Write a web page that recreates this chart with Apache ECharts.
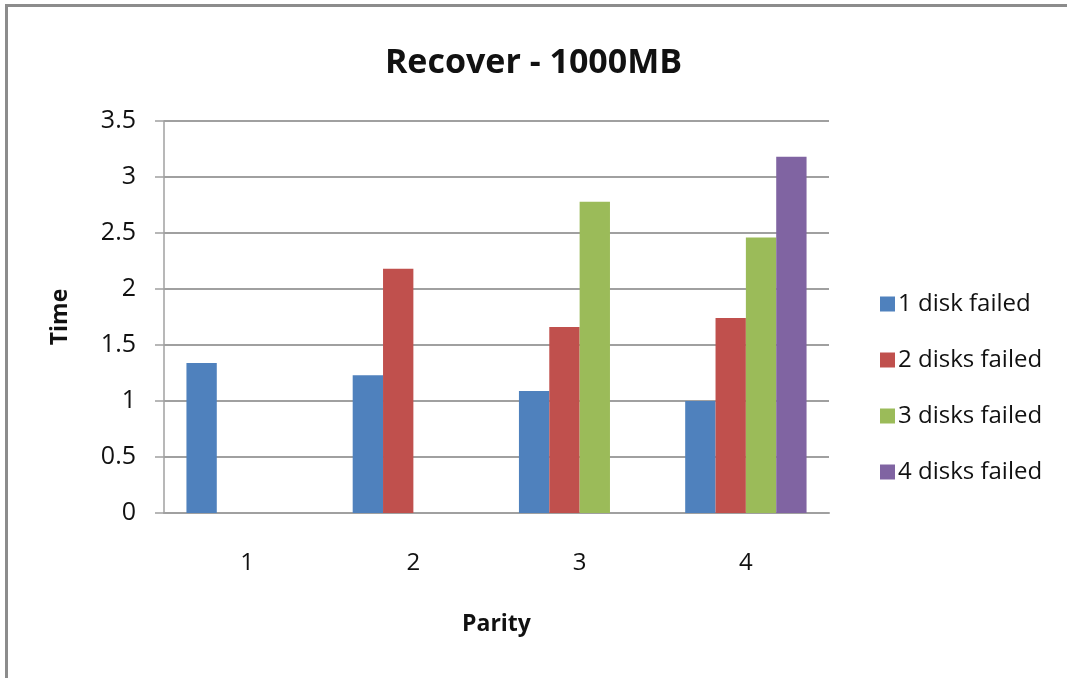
<!DOCTYPE html>
<html>
<head>
<meta charset="utf-8">
<script src="https://cdn.jsdelivr.net/npm/echarts@6/dist/echarts.min.js"></script>
<style>
html,body{margin:0;padding:0;background:#fff;}
#chart{width:1067px;height:678px;}
#frame{position:absolute;left:5px;top:4px;width:1062px;height:674px;border-left:3px solid #8c8c8c;border-top:3px solid #8c8c8c;pointer-events:none;box-sizing:border-box;}
</style>
</head>
<body>
<div id="chart"></div>
<div id="frame"></div>
<script>
const categories = ['1', '2', '3', '4'];
const seriesNames = ['1 disk failed', '2 disks failed', '3 disks failed', '4 disks failed'];
const disk1 = [1.34, 1.23, 1.09, 1.00];
const disk2 = [null, 2.18, 1.66, 1.74];
const disk3 = [null, null, 2.78, 2.46];
const disk4 = [null, null, null, 3.18];
const colors = ['#4F81BD', '#C0504D', '#9BBB59', '#8064A2'];

const font = '"Open Sans", sans-serif';
const chart = echarts.init(document.getElementById('chart'), null, {renderer: 'canvas'});
const dataSets = [disk1, disk2, disk3, disk4];
chart.setOption({
  animation: false,
  backgroundColor: '#ffffff',
  title: {
    text: 'Recover - 1000MB',
    left: 'center',
    top: 38,
    textStyle: {fontFamily: font, fontWeight: 'bold', fontSize: 34, color: '#111', lineHeight: 40}
  },
  legend: {
    orient: 'vertical',
    left: 875,
    top: 287,
    itemWidth: 15,
    itemHeight: 15,
    itemGap: 32,
    icon: 'rect',
    textStyle: {fontFamily: font, fontSize: 24, color: '#111', lineHeight: 24, padding: [0, 0, 0, -2]},
    data: seriesNames
  },
  grid: {left: 164, right: 238, top: 121, bottom: 165, containLabel: false},
  xAxis: {
    type: 'category',
    data: categories,
    name: 'Parity',
    nameLocation: 'middle',
    nameGap: 100,
    nameTextStyle: {fontFamily: font, fontWeight: 'bold', fontSize: 23, color: '#111'},
    axisLine: {lineStyle: {color: '#a0a0a0', width: 2}},
    axisTick: {show: false},
    axisLabel: {fontFamily: font, fontSize: 24, color: '#111', margin: 38}
  },
  yAxis: {
    type: 'value',
    min: 0,
    max: 3.5,
    interval: 0.5,
    name: 'Time',
    nameLocation: 'middle',
    nameGap: 92,
    nameRotate: 90,
    nameTextStyle: {fontFamily: font, fontWeight: 'bold', fontSize: 23, color: '#111'},
    axisLine: {show: true, lineStyle: {color: '#a0a0a0', width: 1.5}},
    axisTick: {show: true, length: 9, lineStyle: {color: '#a0a0a0', width: 1.5}},
    splitLine: {lineStyle: {color: '#a0a0a0', width: 2}},
    axisLabel: {fontFamily: font, fontSize: 25, color: '#111', margin: 28}
  },
  series: seriesNames.map((n, i) => ({
    name: n,
    type: 'bar',
    data: dataSets[i],
    barGap: '0%',
    barCategoryGap: '27%',
    itemStyle: {color: colors[i]}
  }))
});
</script>
</body>
</html>
